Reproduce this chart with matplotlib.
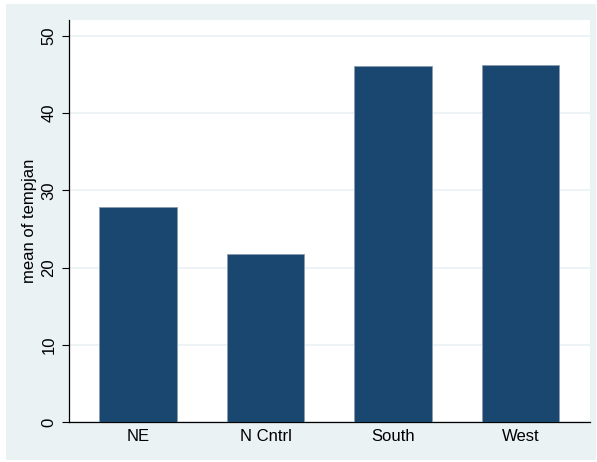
import matplotlib.pyplot as plt
from matplotlib.patches import Rectangle

plt.rcParams['font.family'] = ['Liberation Sans', 'DejaVu Sans']

regions = ['NE', 'N Cntrl', 'South', 'West']
mean_tempjan = [27.9, 21.7, 46.1, 46.2]
yticks = [0, 10, 20, 30, 40, 50]

W, H = 597, 462
fig = plt.figure(figsize=(W / 100, H / 100), dpi=100, facecolor='white')

# stata-ish light background panel
fig.patches.append(Rectangle((6 / W, 2 / H), 590 / W, 456 / H, transform=fig.transFigure,
                             facecolor='#EAF2F3', edgecolor='none', zorder=-10))

ax = fig.add_axes([69 / W, 40 / H, 521 / W, 402 / H])
ax.set_facecolor('white')

pos = list(range(len(regions)))
ax.bar(pos, mean_tempjan, width=0.61, color='#1A476F', edgecolor='#8A9DB0', linewidth=0.6, zorder=3)

ax.set_xlim(-0.541, 3.545)
ax.set_ylim(0, 52.07)
ax.set_yticks(yticks)
ax.set_yticklabels([str(t) for t in yticks], rotation=90, va='center', fontsize=12)
ax.set_xticks(pos)
ax.set_xticklabels(regions, fontsize=12)
ax.tick_params(axis='x', length=0, pad=5)
ax.tick_params(axis='y', length=5, width=0.8, pad=4)
ax.grid(axis='y', color='#EAF2F3', linewidth=1.2, zorder=1)
ax.set_axisbelow(True)

for s in ['top', 'right']:
    ax.spines[s].set_visible(False)
ax.spines['left'].set_linewidth(0.9)
ax.spines['bottom'].set_linewidth(0.9)

ax.set_ylabel('mean of tempjan', fontsize=12, labelpad=3)

fig.savefig('out.png', dpi=100)
